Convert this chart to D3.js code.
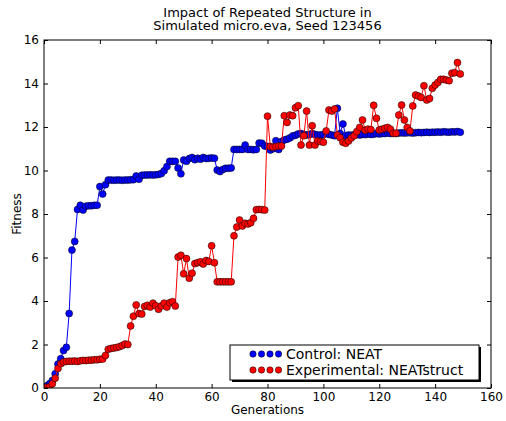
<!DOCTYPE html>
<html>
<head>
<meta charset="utf-8">
<script src="https://cdn.jsdelivr.net/npm/d3@7"></script>
<style>
  body { margin: 0; background: #fff; }
  text { font-family: "DejaVu Sans", sans-serif; fill: #000; }
</style>
</head>
<body>
<svg id="chart" width="506" height="421"></svg>
<script>

// fitness per generation, gen 0 .. 149
var control = [
  0.05,0.1,0.2,0.35,0.65,1.1,1.35,1.72,1.87,3.43,
  6.34,6.74,8.21,8.4,8.18,8.36,8.38,8.38,8.4,8.4,
  9.26,8.92,9.35,9.56,9.56,9.55,9.56,9.56,9.55,9.56,
  9.56,9.57,9.58,9.75,9.6,9.78,9.79,9.79,9.8,9.79,
  9.8,9.82,9.86,9.99,10.18,10.42,10.42,10.42,10.11,9.85,
  10.48,10.42,10.55,10.6,10.5,10.56,10.52,10.6,10.55,10.56,
  10.58,10.56,10.02,9.95,10.05,10.1,10.1,10.12,10.97,10.97,
  10.97,10.97,11.17,10.97,10.97,10.95,10.97,11.26,11.25,11.13,
  11.1,10.94,11.0,11.37,10.97,11.33,11.4,11.44,11.5,11.59,
  11.62,11.68,11.7,11.66,11.63,11.65,11.7,11.66,11.63,11.63,
  11.65,11.7,11.66,11.63,11.6,12.86,11.7,12.14,11.6,11.63,
  11.62,11.64,11.65,11.63,11.66,11.65,11.68,11.66,11.67,11.7,
  11.68,11.7,11.7,11.72,11.7,11.71,11.7,11.72,11.73,11.72,
  11.73,11.74,11.72,11.74,11.75,11.74,11.75,11.76,11.75,11.76,
  11.76,11.77,11.76,11.78,11.77,11.76,11.78,11.77,11.79,11.76
];

var experimental = [
  0.02,0.03,0.05,0.2,0.45,0.9,1.12,1.2,1.22,1.23,
  1.23,1.24,1.22,1.25,1.27,1.26,1.28,1.28,1.3,1.3,
  1.32,1.33,1.5,1.78,1.82,1.84,1.86,1.9,1.95,2.02,
  2.0,2.85,3.3,3.82,3.42,3.4,3.75,3.8,3.72,3.9,
  3.78,3.62,3.77,3.9,3.72,3.92,3.97,3.77,6.02,6.1,
  5.25,5.95,5.05,5.28,5.72,5.76,5.8,5.7,5.86,5.82,
  6.54,5.76,4.88,4.88,4.88,4.88,4.88,4.88,7.0,7.4,
  7.72,7.45,7.57,7.54,7.6,7.8,8.2,8.21,8.2,8.18,
  12.5,11.1,11.07,11.1,11.13,11.13,12.52,12.21,12.55,12.52,
  12.89,12.98,11.17,11.6,12.73,11.17,12.06,11.17,11.36,11.33,
  11.3,11.82,12.78,12.73,12.83,11.63,11.51,11.3,11.25,11.36,
  11.49,11.6,11.79,11.98,12.32,11.85,11.9,11.88,13.0,12.4,
  11.86,11.9,11.94,11.98,11.9,11.71,11.71,12.55,13.01,12.32,
  11.98,11.82,12.97,13.47,13.42,13.36,13.9,13.24,13.31,13.78,
  13.93,14.05,14.19,14.19,14.16,14.13,14.47,14.5,14.96,14.44
];

var xTicks = [0, 20, 40, 60, 80, 100, 120, 140, 160];
var yTicks = [0, 2, 4, 6, 8, 10, 12, 14, 16];
var seriesNames = ["Control: NEAT", "Experimental: NEATstruct"];
var seriesColors = ["#0000ff", "#ff0000"];

var margin = {top: 40, right: 15, bottom: 33, left: 44};
var width = 506 - margin.left - margin.right;
var height = 421 - margin.top - margin.bottom;

var svg = d3.select("#chart");
var g = svg.append("g").attr("transform", `translate(${margin.left},${margin.top})`);

var x = d3.scaleLinear().domain([0, 160]).range([0, width]);
var y = d3.scaleLinear().domain([0, 16]).range([height, 0]);

g.append("clipPath").attr("id", "plotclip")
  .append("rect").attr("width", width).attr("height", height);

// ticks point inward on all four sides, matplotlib style
var tickLen = 4;
g.append("g").attr("transform", `translate(0,${height})`)
  .call(d3.axisBottom(x).tickValues(xTicks).tickSize(-tickLen).tickPadding(4))
  .call(ax => ax.select(".domain").remove());
g.append("g")
  .call(d3.axisTop(x).tickValues(xTicks).tickSize(-tickLen).tickFormat(""))
  .call(ax => ax.select(".domain").remove());
g.append("g")
  .call(d3.axisLeft(y).tickValues(yTicks).tickSize(-tickLen).tickPadding(5))
  .call(ax => ax.select(".domain").remove());
g.append("g").attr("transform", `translate(${width},0)`)
  .call(d3.axisRight(y).tickValues(yTicks).tickSize(-tickLen).tickFormat(""))
  .call(ax => ax.select(".domain").remove());

g.selectAll(".tick text")
  .style("font-family", "DejaVu Sans, sans-serif")
  .style("font-size", "12px");
g.selectAll(".tick line").attr("stroke", "#000");

var line = d3.line()
  .x((d, i) => x(i))
  .y(d => y(d));

var plot = g.append("g").attr("clip-path", "url(#plotclip)");

[control, experimental].forEach(function(series, k){
  plot.append("path")
    .datum(series)
    .attr("d", line)
    .attr("fill", "none")
    .attr("stroke", seriesColors[k])
    .attr("stroke-width", 1);

  plot.append("g").selectAll("circle")
    .data(series)
    .enter()
    .append("circle")
    .attr("cx", (d, i) => x(i))
    .attr("cy", d => y(d))
    .attr("r", 3.5)
    .attr("fill", seriesColors[k])
    .attr("stroke", "#000")
    .attr("stroke-width", 0.5);
});

// frame
g.append("rect")
  .attr("width", width).attr("height", height)
  .attr("fill", "none").attr("stroke", "#000").attr("stroke-width", 1);

// titles
svg.append("text")
  .attr("x", margin.left + width / 2).attr("y", 17)
  .attr("text-anchor", "middle").style("font-size", "13px")
  .text("Impact of Repeated Structure in");
svg.append("text")
  .attr("x", margin.left + width / 2).attr("y", 30)
  .attr("text-anchor", "middle").style("font-size", "13px")
  .text("Simulated micro.eva, Seed 123456");

svg.append("text")
  .attr("x", margin.left + width / 2).attr("y", 414)
  .attr("text-anchor", "middle").style("font-size", "12px")
  .text("Generations");

svg.append("text")
  .attr("transform", `translate(21,${margin.top + height / 2}) rotate(-90)`)
  .attr("text-anchor", "middle").style("font-size", "12px")
  .text("Fitness");

// legend with drop shadow
var leg = svg.append("g").attr("transform", "translate(230,345)");
var legW = 249, legH = 35;
leg.append("rect").attr("x", 2).attr("y", 2)
  .attr("width", legW).attr("height", legH).attr("fill", "#000");
leg.append("rect")
  .attr("width", legW).attr("height", legH)
  .attr("fill", "#fff").attr("stroke", "#000").attr("stroke-width", 1);

seriesNames.forEach(function(name, k){
  var row = leg.append("g").attr("transform", `translate(0,${9 + k * 16})`);
  row.selectAll("circle")
    .data([0, 1, 2, 3])
    .enter()
    .append("circle")
    .attr("cx", d => 23 + d * 8.5)
    .attr("cy", 0)
    .attr("r", 3.2)
    .attr("fill", seriesColors[k])
    .attr("stroke", "#000")
    .attr("stroke-width", 0.5);
  row.append("text")
    .attr("x", 56).attr("y", 5)
    .style("font-size", "14px")
    .text(name);
});

</script>
</body>
</html>
